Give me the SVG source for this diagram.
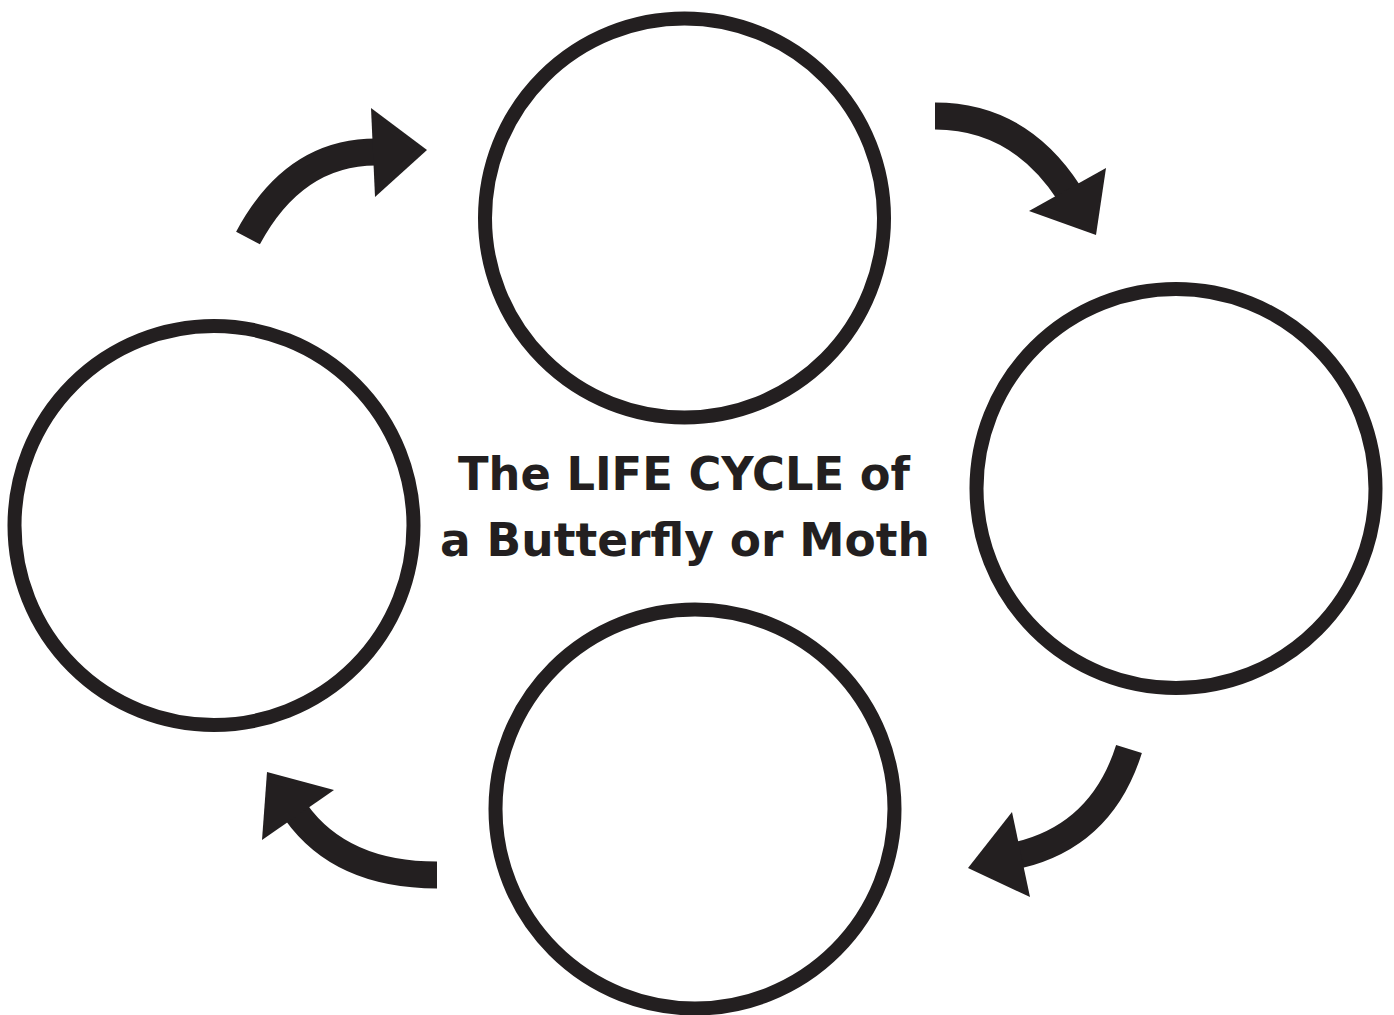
<svg xmlns="http://www.w3.org/2000/svg" width="1394" height="1015" viewBox="0 0 1394 1015">
<style>
.stage{fill:#fff;stroke:#231f20;stroke-width:14}
.band{fill:none;stroke:#231f20;stroke-width:27;stroke-linecap:butt}
.head{fill:#231f20}
.title{font-family:"DejaVu Sans","Liberation Sans",sans-serif;font-size:46px;font-weight:bold;fill:#231f20;text-anchor:middle}
</style>
<rect width="1394" height="1015" fill="#fff"/>
<g id="stage-top"><circle class="stage" cx="684.5" cy="218" r="199.5"/></g>
<g id="stage-right"><circle class="stage" cx="1176" cy="488.5" r="199.5"/></g>
<g id="stage-bottom"><circle class="stage" cx="695" cy="809" r="199.5"/></g>
<g id="stage-left"><circle class="stage" cx="214" cy="525.5" r="199.5"/></g>
<g id="title">
<text class="title" x="684" y="490" textLength="452" lengthAdjust="spacingAndGlyphs">The LIFE CYCLE of</text>
<text class="title" x="685" y="556" textLength="490" lengthAdjust="spacingAndGlyphs">a Butterfly or Moth</text>
</g>
<g id="connectors">
<path class="band" d="M248,238 Q294,152 376,152"/>
<polygon class="head" points="371,108 427,150 375,197"/>
<path class="band" d="M935,116 Q1019,116 1069,193"/>
<polygon class="head" points="1029,211 1106,168 1096,235"/>
<path class="band" d="M1129,749 Q1102,835 1019,855"/>
<polygon class="head" points="1012,812 968,868 1030,897"/>
<path class="band" d="M437,875 Q341,875 296,812"/>
<polygon class="head" points="334,790 267,772 262,840"/>
</g>
</svg>
